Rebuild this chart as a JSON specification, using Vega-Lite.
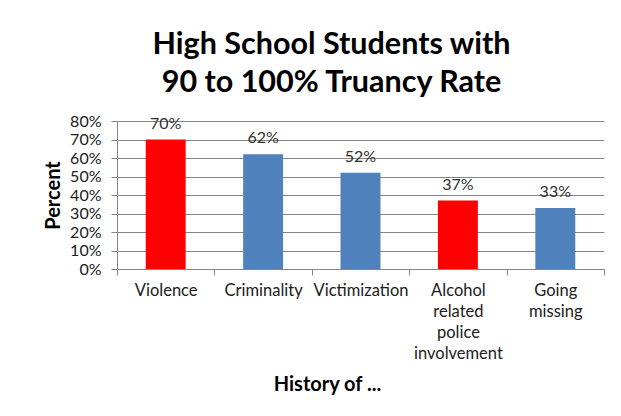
{
  "$schema": "https://vega.github.io/schema/vega-lite/v6.json",
  "autosize": "none",
  "width": 487,
  "height": 148,
  "padding": {"left": 117, "top": 121, "right": 17, "bottom": 147},
  "background": "white",
  "title": {
    "text": ["High School Students with", "90 to 100% Truancy Rate"],
    "font": "Lato",
    "fontSize": 30.5,
    "fontWeight": "bold",
    "color": "black",
    "lineHeight": 38,
    "anchor": "middle",
    "dx": -29,
    "offset": 15
  },
  "config": {
    "view": {"stroke": null},
    "font": "Lato"
  },
  "data": {
    "values": [
      {"category": "Violence", "percent": 0.70, "highlight": "yes"},
      {"category": "Criminality", "percent": 0.62, "highlight": "no"},
      {"category": "Victimization", "percent": 0.52, "highlight": "no"},
      {"category": "Alcohol related police involvement", "percent": 0.37, "highlight": "yes"},
      {"category": "Going missing", "percent": 0.33, "highlight": "no"}
    ]
  },
  "encoding": {
    "x": {
      "field": "category",
      "type": "nominal",
      "sort": null,
      "scale": {"paddingInner": 0, "paddingOuter": 0},
      "axis": {
        "title": "History of ...",
        "titleFont": "Lato",
        "titleFontSize": 20,
        "titleFontWeight": "bold",
        "titleColor": "black",
        "titlePadding": 13,
        "titleX": 210,
        "labelAngle": 0,
        "labelFont": "Lato",
        "labelFontSize": 16.5,
        "labelColor": "#202020",
        "labelLineHeight": 21,
        "labelPadding": 7,
        "labelExpr": "datum.value == 'Alcohol related police involvement' ? ['Alcohol', 'related', 'police', 'involvement'] : datum.value == 'Going missing' ? ['Going', 'missing'] : datum.label",
        "tickBand": "extent",
        "tickSize": 6,
        "tickColor": "#868686",
        "domainColor": "#868686",
        "grid": false
      }
    },
    "y": {
      "field": "percent",
      "type": "quantitative",
      "scale": {"domain": [0, 0.8], "nice": false},
      "axis": {
        "title": "Percent",
        "titleFont": "Lato",
        "titleFontSize": 20,
        "titleFontWeight": "bold",
        "titleColor": "black",
        "titlePadding": 6,
        "format": ".0%",
        "values": [0, 0.1, 0.2, 0.3, 0.4, 0.5, 0.6, 0.7, 0.8],
        "labelFont": "Lato",
        "labelFontSize": 16,
        "labelColor": "#202020",
        "labelPadding": 10,
        "tickSize": 6,
        "tickColor": "#868686",
        "domainColor": "#868686",
        "gridColor": "#868686",
        "gridWidth": 1
      }
    }
  },
  "layer": [
    {
      "mark": {"type": "bar", "width": {"band": 0.41}},
      "encoding": {
        "color": {
          "field": "highlight",
          "type": "nominal",
          "scale": {"domain": ["yes", "no"], "range": ["#FF0000", "#4F81BD"]},
          "legend": null
        }
      }
    },
    {
      "mark": {"type": "text", "baseline": "bottom", "dy": -8, "font": "Lato", "fontSize": 16, "color": "#303030"},
      "encoding": {
        "text": {"field": "percent", "type": "quantitative", "format": ".0%"}
      }
    }
  ]
}
